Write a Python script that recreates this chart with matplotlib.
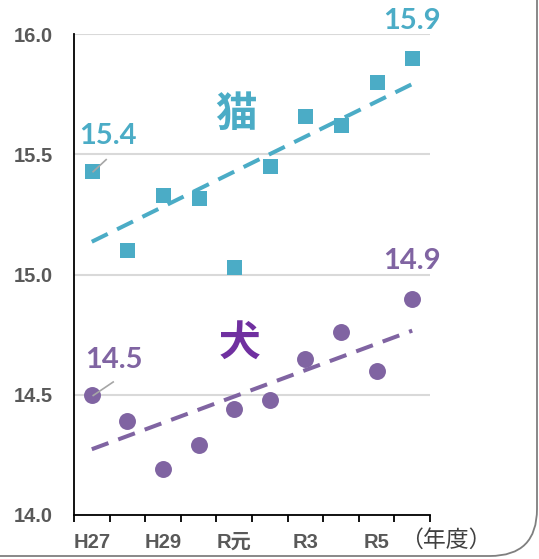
import numpy as np
import matplotlib
matplotlib.use('Agg')
import matplotlib.pyplot as plt
from matplotlib.patches import FancyBboxPatch

# 年度ごとの平均寿命（猫・犬）
years = ['H27', 'H28', 'H29', 'H30', 'R元', 'R2', 'R3', 'R4', 'R5', 'R6']
cat_vals = [15.43, 15.10, 15.33, 15.32, 15.03, 15.45, 15.66, 15.62, 15.80, 15.90]
dog_vals = [14.50, 14.39, 14.19, 14.29, 14.44, 14.48, 14.65, 14.76, 14.60, 14.90]
yticks = [14.0, 14.5, 15.0, 15.5, 16.0]

CAT = '#4BACC6'
DOG = '#8064A2'
DOG_TXT = '#7030A0'
TICK = '#595959'

W, H = 539, 559
fig = plt.figure(figsize=(W / 100, H / 100), dpi=100)
fig.patch.set_facecolor('white')
ax = fig.add_axes([74 / W, 1 - 515 / H, (430 - 74) / W, (515 - 34) / H])

x = np.arange(len(years))

for vals, color, mk, ms in [(cat_vals, CAT, 's', 10.8), (dog_vals, DOG, 'o', 12.2)]:
    # 線形近似（点線）
    k, b = np.polyfit(x, vals, 1)
    xx = np.array([x[0], x[-1]])
    ax.plot(xx, k * xx + b, color=color, lw=2.9, dashes=(4.4, 2.6),
            solid_capstyle='butt', dash_capstyle='butt', zorder=2)
    ax.plot(x, vals, ls='none', marker=mk, ms=ms, color=color,
            markeredgewidth=0, zorder=3)

ax.set_xlim(-0.5, len(years) - 0.5)
ax.set_ylim(14.0, 16.0)
ax.set_yticks(yticks)
ax.set_yticklabels([f'{v:.1f}' for v in yticks])
ax.grid(axis='y', color='#D9D9D9', lw=1.5)
ax.set_axisbelow(True)

for s in ['top', 'right']:
    ax.spines[s].set_visible(False)
for s in ['left', 'bottom']:
    ax.spines[s].set_color('black')
    ax.spines[s].set_linewidth(1.3)

ax.set_xticks(x[::2])
ax.set_xticklabels(years[::2])
ax.set_xticks(np.arange(-0.5, len(years)), minor=True)
ax.tick_params(axis='x', which='major', length=0, pad=13)
ax.tick_params(axis='x', which='minor', length=5, width=1.3, color='black')
ax.tick_params(axis='y', length=0, pad=15)
for lab in ax.get_xticklabels() + ax.get_yticklabels():
    lab.set_family(['Liberation Sans', 'Noto Sans CJK JP'])
    lab.set_fontweight('bold')
    lab.set_fontsize(14.5)
    lab.set_color(TICK)

# データラベル（先頭と最終年度）
lab_kw = dict(fontsize=21, fontweight='bold', family='Lato',
              ha='center', va='center', zorder=4, clip_on=False)
ax.text(0.45, 15.575, f'{cat_vals[0]:.1f}', color=CAT, **lab_kw)
ax.text(0.62, 14.645, f'{dog_vals[0]:.1f}', color=DOG, **lab_kw)
ax.text(x[-1], 16.055, f'{cat_vals[-1]:.1f}', color=CAT, **lab_kw)
ax.text(x[-1], 15.055, f'{dog_vals[-1]:.1f}', color=DOG, **lab_kw)

# 引き出し線
for v, dy, dx in [(cat_vals[0], 0.05, 0.42), (dog_vals[0], 0.055, 0.62)]:
    ax.plot([x[0] + 0.02, x[0] + dx], [v - 0.005, v + dy],
            color='#A6A6A6', lw=1.2, zorder=4, solid_capstyle='butt')

# 系列名
ax.text(4.05, 15.665, '猫', color=CAT, fontsize=30, fontweight='bold',
        family='Noto Sans CJK JP', ha='center', va='center')
ax.text(4.15, 14.71, '犬', color=DOG_TXT, fontsize=30, fontweight='bold',
        family='Noto Sans CJK JP', ha='center', va='center')

fig.text(446 / W, 1 - 540 / H, '（年度）', fontsize=16.5, color='#404040',
         family='Noto Sans CJK JP', ha='center', va='center')

# 外枠（角丸）
frame = FancyBboxPatch((-1.0, 0.03), 6.37, 7.0,
                       boxstyle='round,pad=0,rounding_size=0.47',
                       transform=fig.dpi_scale_trans, fill=False,
                       edgecolor='#7F7F7F', lw=1.3, clip_on=False)
fig.add_artist(frame)

fig.savefig('out.png', dpi=100, facecolor='white')
